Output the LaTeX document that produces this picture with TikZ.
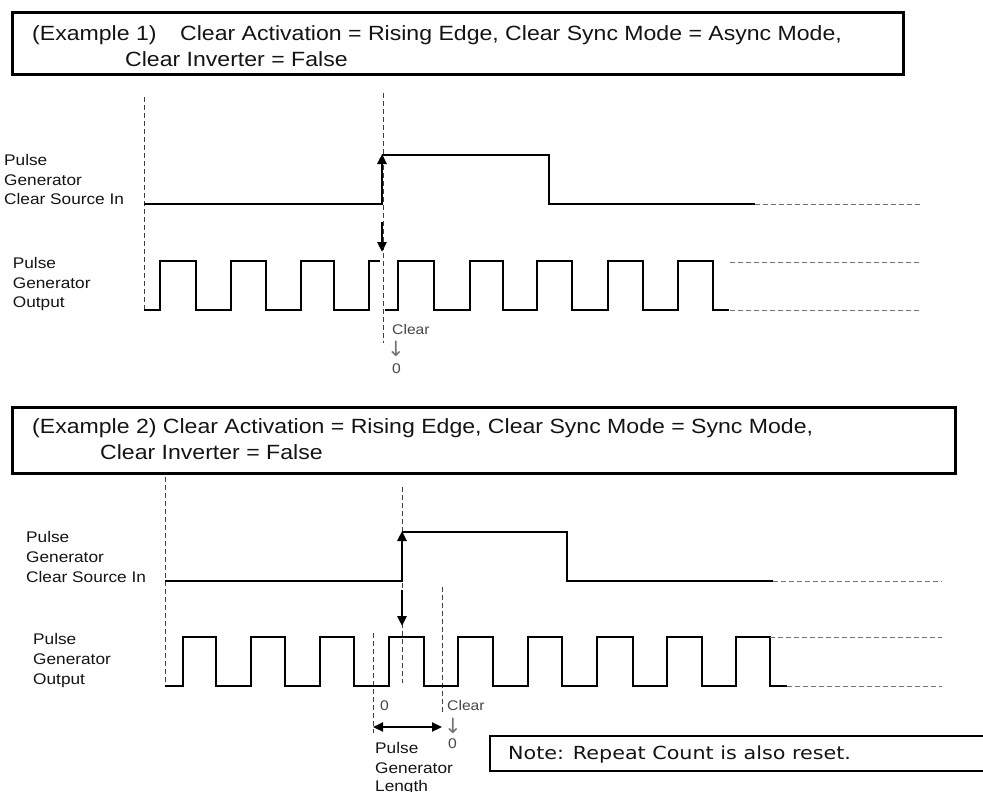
\documentclass[tikz,border=0pt]{standalone}
\usepackage{fontspec}
\setmainfont{Liberation Sans}
\newfontfamily\labfont[FakeStretch=1.12]{Liberation Sans}
\newfontfamily\notefont[FakeStretch=1.15]{DejaVu Sans}
\newfontfamily\arrfont{DejaVu Sans}
\usetikzlibrary{arrows.meta}
\tikzset{
  sig/.style={line width=2.8pt, black, line join=miter},
  ext/.style={black!55, line width=0.9pt, dash pattern=on 5pt off 3pt},
  vdash/.style={black!75, line width=0.9pt, dash pattern=on 5pt off 3pt},
  framebox/.style={draw, line width=3pt},
  notebox/.style={draw, line width=2.2pt},
  ttl/.style={inner sep=0pt, anchor=base west, font=\labfont\fontsize{20.6}{24}\selectfont, text=black!92},
  lbl/.style={inner sep=0pt, anchor=base west, font=\labfont\fontsize{15.4}{20}\selectfont, text=black!92},
  smalltxt/.style={inner sep=0pt, anchor=base west, font=\labfont\fontsize{14}{16}\selectfont, text=black!72},
  arrtxt/.style={inner sep=0pt, anchor=base, font=\arrfont\fontsize{21}{22}\selectfont, text=black!55},
  notetxt/.style={inner sep=0pt, anchor=base west, font=\notefont\fontsize{18}{22}\selectfont, text=black!92},
  tip/.style={-{Triangle[length=10pt,width=9pt]}}
}
\begin{document}
\begin{tikzpicture}[x=1pt,y=-1pt]
\useasboundingbox (0,0) rectangle (983,792);

% ---------------- Example 1 ----------------
\draw[framebox] (12,13) rectangle (903,75);
\node[ttl] (e1a) at (32,40.5) {(Example 1)};
\node[ttl] (e1b) at (180,40.5) {Clear Activation = Rising Edge, Clear Sync Mode = Async Mode,};
\node[ttl] (e1c) at (125,66.5) {Clear Inverter = False};

\node[lbl] (l1a) at (4,165) {Pulse};
\node[lbl] (l1b) at (4,185) {Generator};
\node[lbl] (l1c) at (4,204) {Clear Source In};
\node[lbl] (l1d) at (12.7,268) {Pulse};
\node[lbl] (l1e) at (12.7,288) {Generator};
\node[lbl] (l1f) at (12.7,307) {Output};

\draw[vdash] (144,97) -- (144,312);
\draw[vdash] (383,93) -- (383,343);

% clear source in
\draw[sig] (144,204) -- (382,204) -- (382,160) (382,155) -- (549,155) -- (549,204) -- (755,204);
\draw[sig,tip] (382,170) -- (382,154);
\draw[ext] (755,204) -- (922,204);
\draw[sig,tip] (382,222) -- (382,252);

% output
\draw[sig] (144,310) -- (160,310) -- (160,261) -- (196,261) -- (196,310) -- (231,310) -- (231,261) -- (266,261) -- (266,310) -- (301,310) -- (301,261) -- (334,261) -- (334,310) -- (369,310) -- (369,261) -- (380,261);
\draw[sig] (385,310) -- (398,310) -- (398,261) -- (434,261) -- (434,310) -- (470,310) -- (470,261) -- (503,261) -- (503,310) -- (537,310) -- (537,261) -- (572,261) -- (572,310) -- (608,310) -- (608,261) -- (643,261) -- (643,310) -- (678,310) -- (678,261) -- (713,261) -- (713,310) -- (729,310);
\draw[ext] (730,262) -- (919,262);
\draw[ext] (730,310) -- (922,310);

\node[smalltxt] (c1) at (392,334) {Clear};
\node[arrtxt] (c1arr) at (396,356) {↓};
\node[smalltxt] (c1z) at (392,373) {0};

% ---------------- Example 2 ----------------
\draw[framebox] (12,407) rectangle (955,473);
\node[ttl] (e2a) at (32,433) {(Example 2) Clear Activation = Rising Edge, Clear Sync Mode = Sync Mode,};
\node[ttl] (e2b) at (100,459) {Clear Inverter = False};

\node[lbl] (l2a) at (26,542) {Pulse};
\node[lbl] (l2b) at (26,562) {Generator};
\node[lbl] (l2c) at (26,582) {Clear Source In};
\node[lbl] (l2d) at (33,644) {Pulse};
\node[lbl] (l2e) at (33,664) {Generator};
\node[lbl] (l2f) at (33,684) {Output};

\draw[vdash] (165,477) -- (165,687);
\draw[vdash] (402,487) -- (402,683);
\draw[vdash] (373,633) -- (373,733);
\draw[vdash] (442,587) -- (442,715);

% clear source in
\draw[sig] (165,581) -- (402,581) -- (402,537) (402,532) -- (567,532) -- (567,581) -- (773,581);
\draw[sig,tip] (402,547) -- (402,531);
\draw[ext] (773,581) -- (942,581);
\draw[sig,tip] (402,590) -- (402,626);

% output
\draw[sig] (165,686) -- (183,686) -- (183,637) -- (216,637) -- (216,686) -- (251,686) -- (251,637) -- (285,637) -- (285,686) -- (320,686) -- (320,637) -- (354,637) -- (354,686) -- (389,686) -- (389,637) -- (424,637) -- (424,686) -- (458,686) -- (458,637) -- (493,637) -- (493,686) -- (528,686) -- (528,637) -- (562,637) -- (562,686) -- (597,686) -- (597,637) -- (633,637) -- (633,686) -- (667,686) -- (667,637) -- (702,637) -- (702,686) -- (736,686) -- (736,637) -- (770,637) -- (770,686) -- (787,686);
\draw[ext] (770,637) -- (942,637);
\draw[ext] (787,686) -- (942,686);

\node[smalltxt] (z2) at (380,710) {0};
\node[smalltxt] (c2) at (447,710) {Clear};
\node[arrtxt] (c2arr) at (453,733) {↓};
\node[smalltxt] (c2z) at (448,748) {0};

\coordinate (pa) at (373,727);
\coordinate (pb) at (442,727);
\draw[line width=2.2pt, {Triangle[length=10pt,width=9pt]}-{Triangle[length=10pt,width=9pt]}] (pa) -- (pb);
\node[lbl] (p2a) at (375,753) {Pulse};
\node[lbl] (p2b) at (375,773) {Generator};
\node[lbl] (p2c) at (375,791) {Length};

\draw[notebox] (490,736) rectangle (995,771);
\node[notetxt] (note) at (508,759) {Note: Repeat Count is also reset.};
\end{tikzpicture}
\end{document}
